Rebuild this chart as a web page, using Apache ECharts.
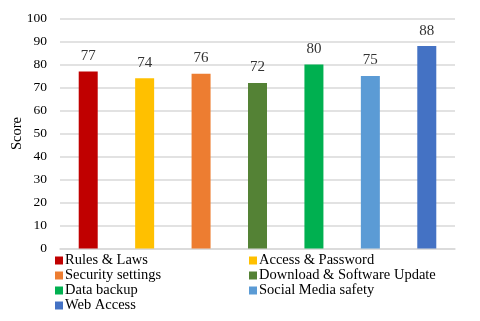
<!DOCTYPE html>
<html>
<head>
<meta charset="utf-8">
<script src="https://cdn.jsdelivr.net/npm/echarts@6/dist/echarts.min.js"></script>
<style>
  html, body { margin: 0; padding: 0; background: #fff; }
  #chart { width: 480px; height: 321px; }
</style>
</head>
<body>
<div id="chart"></div>
<script>
// datos
const categorias = ["Rules & Laws", "Access & Password", "Security settings", "Download & Software Update", "Data backup", "Social Media safety", "Web Access"];
const puntajes = [77, 74, 76, 72, 80, 75, 88];
const colores = ["#C00000", "#FFC000", "#ED7D31", "#548235", "#00B050", "#5B9BD5", "#4472C4"];
const ticksY = [0, 10, 20, 30, 40, 50, 60, 70, 80, 90, 100];

const fuente = "'Liberation Serif', 'DejaVu Serif', serif";

// una serie por categoría para que la leyenda muestre cada color
const series = categorias.map((nombre, i) => ({
  name: nombre,
  type: "bar",
  stack: "total",
  barWidth: 19,
  itemStyle: { color: colores[i] },
  data: puntajes.map((v, j) => (j === i ? v : null)),
  label: {
    show: true, position: "top", distance: 8,
    color: "#333", fontFamily: fuente, fontSize: 15
  }
}));

const estiloLeyenda = { color: "#000", fontFamily: fuente, fontSize: 14.5, lineHeight: 14.5, padding: [0, 0, 0, -3] };

const chart = echarts.init(document.getElementById("chart"));
chart.setOption({
  animation: false,
  textStyle: { fontFamily: fuente },
  grid: { left: 60, right: 25, top: 18.5, bottom: 72.5, containLabel: false, outerBoundsMode: "none" },
  xAxis: {
    type: "category",
    data: categorias,
    axisLine: { lineStyle: { color: "#d9d9d9", width: 1.5 } },
    axisTick: { show: false },
    axisLabel: { show: false }
  },
  yAxis: {
    type: "value",
    min: ticksY[0], max: ticksY[ticksY.length - 1], interval: 10,
    name: "Score",
    nameLocation: "middle",
    nameGap: 35,
    nameMoveOverlap: false,
    nameTextStyle: { color: "#000", fontFamily: fuente, fontSize: 14.5 },
    axisLabel: { color: "#000", fontFamily: fuente, fontSize: 13.5, margin: 13 },
    splitLine: { lineStyle: { color: "#d9d9d9", width: 1.5 } },
    axisLine: { show: false },
    axisTick: { show: false }
  },
  legend: [
    {
      orient: "vertical", left: 55, top: 253, padding: 0,
      itemWidth: 8, itemHeight: 8, itemGap: 0,
      icon: "rect",
      data: [categorias[0], categorias[2], categorias[4], categorias[6]],
      textStyle: estiloLeyenda
    },
    {
      orient: "vertical", left: 249, top: 253, padding: 0,
      itemWidth: 8, itemHeight: 8, itemGap: 0,
      icon: "rect",
      data: [categorias[1], categorias[3], categorias[5]],
      textStyle: estiloLeyenda
    }
  ],
  series: series
});
</script>
</body>
</html>
